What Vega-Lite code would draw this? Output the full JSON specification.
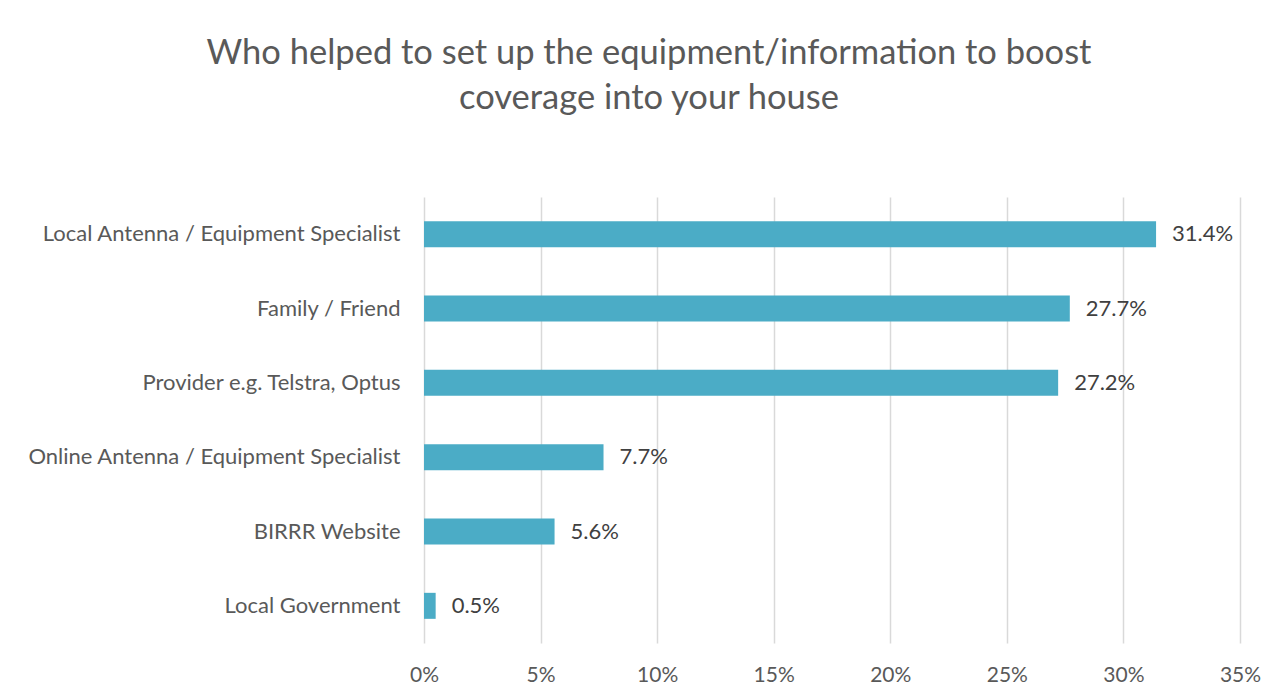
{
  "$schema": "https://vega.github.io/schema/vega-lite/v6.json",
  "autosize": "none",
  "width": 816,
  "height": 446,
  "padding": {"left": 424, "top": 197, "right": 48, "bottom": 57},
  "background": "white",
  "title": {
    "text": ["Who helped to set up the equipment/information to boost", "coverage into your house"],
    "anchor": "middle",
    "dx": -183,
    "offset": 54,
    "baseline": "alphabetic",
    "lineHeight": 45,
    "font": "Lato",
    "fontSize": 34.5,
    "fontWeight": "normal",
    "color": "#595959"
  },
  "data": {
    "values": [
      {"who": "Local Antenna / Equipment Specialist", "share": 0.314},
      {"who": "Family / Friend", "share": 0.277},
      {"who": "Provider e.g. Telstra, Optus", "share": 0.272},
      {"who": "Online Antenna / Equipment Specialist", "share": 0.077},
      {"who": "BIRRR Website", "share": 0.056},
      {"who": "Local Government", "share": 0.005}
    ]
  },
  "encoding": {
    "y": {
      "field": "who",
      "type": "nominal",
      "sort": null,
      "scale": {"paddingInner": 0.65, "paddingOuter": 0.325},
      "axis": {
        "title": null,
        "domain": false,
        "ticks": false,
        "grid": false,
        "labelPadding": 24,
        "labelFont": "Lato",
        "labelFontSize": 22,
        "labelColor": "#595959",
        "labelLimit": 420
      }
    },
    "x": {
      "field": "share",
      "type": "quantitative",
      "scale": {"domain": [0, 0.35], "nice": false},
      "axis": {
        "title": null,
        "values": [0, 0.05, 0.1, 0.15, 0.2, 0.25, 0.3, 0.35],
        "format": ".0%",
        "domain": false,
        "ticks": false,
        "grid": true,
        "gridColor": "#d9d9d9",
        "gridWidth": 1.5,
        "labelFlush": false,
        "labelPadding": 21,
        "labelFont": "Lato",
        "labelFontSize": 21,
        "labelColor": "#595959"
      }
    }
  },
  "layer": [
    {"mark": {"type": "bar", "color": "#4bacc6"}},
    {
      "mark": {"type": "text", "align": "left", "dx": 16, "font": "Lato", "fontSize": 22, "color": "#404040"},
      "encoding": {"text": {"field": "share", "type": "quantitative", "format": ".1%"}}
    }
  ],
  "config": {"view": {"stroke": null}}
}
